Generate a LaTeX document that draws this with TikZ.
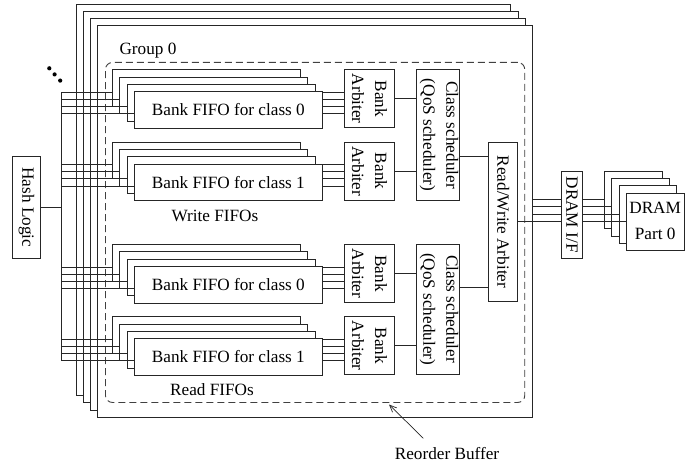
\documentclass[tikz,border=0pt]{standalone}
\usepackage{fontspec}
\setmainfont{Liberation Serif}
\usetikzlibrary{arrows.meta}
\begin{document}
\begin{tikzpicture}[x=1pt,y=-1pt,
  box/.style={draw=black!85, fill=white, line width=0.9pt, inner sep=0pt, anchor=north west},
  lbl/.style={font=\fontsize{17.2}{23}\selectfont, inner sep=0pt},
  wire/.style={draw=black!85, line width=0.9pt}]
\useasboundingbox (0,0) rectangle (695,468);

% stacked group frames, back to front
\foreach \k in {0,1,2,3} {
  \node[box, minimum width=434.4pt, minimum height=391.3pt] (grp\k) at ({76+7.1*\k},{4+7.1*\k}) {};
}
% group 0 outline
\node[draw=black!75, dash pattern=on 7pt off 4pt, line width=0.9pt, rounded corners=7pt,
      inner sep=0pt, anchor=north west, minimum width=419.3pt, minimum height=340pt] (grpin) at (105,62) {};
\node[lbl, anchor=base] (grplbl) at (148,55) {Group 0};

% bank FIFO stacks, bank arbiters
\foreach \s/\T/\c in {1/69.3/0, 2/141.7/1, 3/244/0, 4/316.3/1} {
  \foreach \i in {0,1,2,3} {
    \node[box, minimum width=188pt, minimum height=36.6pt] (s\s b\i) at ({112+7.3*\i},{\T+7.3*\i}) {};
  }
  \node[lbl] (s\s t) at (s\s b3.center) {Bank FIFO for class \c};
  \node[box, minimum width=50.3pt, minimum height=58pt] (arb\s) at (344,\T) {};
  \node[lbl, rotate=-90, align=center] (arb\s t) at (arb\s.center) {Bank\\Arbiter};
  \foreach \i in {0,1,2,3} {
    \path (61.7,{\T+23+7.1*\i}) coordinate (bus\s\i);
    \draw[wire] (bus\s\i) -- (bus\s\i -| s\s b\i.west);
    \draw[wire] (bus\s\i -| s\s b3.east) -- (bus\s\i -| arb\s.west);
  }
}

% class schedulers
\node[box, minimum width=43.3pt, minimum height=130.7pt] (cs1) at (416,69.3) {};
\node[box, minimum width=43.3pt, minimum height=130pt] (cs2) at (416,243.7) {};
\foreach \n in {1,2} {
  \node[lbl, rotate=-90, align=center] (cs\n t) at ([xshift=1pt]cs\n.center) {Class scheduler\\(QoS scheduler)};
}
\draw[wire] (arb1.east) -- (arb1.east -| cs1.west);
\draw[wire] (arb2.east) -- (arb2.east -| cs1.west);
\draw[wire] (arb3.east) -- (arb3.east -| cs2.west);
\draw[wire] (arb4.east) -- (arb4.east -| cs2.west);

% read/write arbiter
\node[box, minimum width=29pt, minimum height=159.6pt] (rw) at (488.3,141.7) {};
\node[lbl, rotate=-90] (rwt) at (rw.center) {Read/Write Arbiter};
\path (rw.north) ++(0,15) coordinate (rwa) (rw.south) ++(0,-15) coordinate (rwb);
\draw[wire] (rwa -| cs1.east) -- (rwa -| rw.west);
\draw[wire] (rwb -| cs2.east) -- (rwb -| rw.west);

% labels of the FIFO groups
\node[lbl, anchor=base] (wf) at (215,221.7) {Write FIFOs};
\node[lbl, anchor=base] (rf) at (212,395.7) {Read FIFOs};

% hash logic and input bus
\node[box, minimum width=28.6pt, minimum height=101.7pt] (hash) at (11.7,156) {};
\node[lbl, rotate=-90] (hasht) at (hash.center) {Hash Logic};
\draw[wire] (bus10) -- (bus43);
\draw[wire] (hash.east |- 0,207) -- (61.7,207);

% more groups
\foreach \p/\q [count=\n] in {49.3/68.3, 54.6/74.4, 60.2/80.6} {
  \fill (\p,\q) circle (2.1pt) coordinate (dot\n);
}

% DRAM interface and DRAM parts
\node[box, minimum width=21.6pt, minimum height=87pt] (dif) at (560.7,170.7) {};
\node[lbl, rotate=-90] (dift) at (dif.center) {DRAM I/F};
\foreach \i in {0,1,2,3} {
  \node[box, minimum width=57.6pt, minimum height=57.6pt] (dram\i) at ({604+7.3*\i},{170.7+7.3*\i}) {};
  \path (0,{199.3+7.4*\i}) coordinate (dy\i);
  \draw[wire] (dif.east |- dy\i) -- (dram\i.west |- dy\i);
}
\node[lbl, align=center, font=\fontsize{17.2}{25.7}\selectfont] (dramt) at ([yshift=1pt]dram3.center) {DRAM\\Part 0};
\foreach \i in {0,1,2} {
  \draw[wire] (grp3.east |- dy\i) -- (dif.west |- dy\i);
}
\draw[wire] (rw.east |- dy3) -- (dif.west |- dy3);

% reorder buffer pointer
\node[lbl, anchor=base] (rob) at (447,459.5) {Reorder Buffer};
\coordinate (robtip) at (389,404.5);
\draw[wire, line width=0.7pt, -{Straight Barb[length=7pt,width=6pt]}] (423.3,438.3) -- (robtip);
\end{tikzpicture}
\end{document}
